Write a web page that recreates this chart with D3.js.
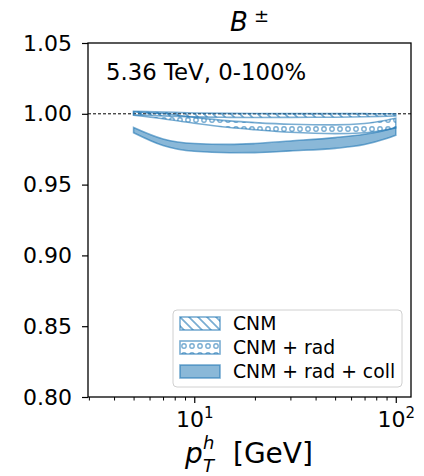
<!DOCTYPE html>
<html>
<head>
<meta charset="utf-8">
<script src="https://cdn.jsdelivr.net/npm/d3@7"></script>
<style>
  body { margin: 0; background: #fff; }
  text { font-family: "DejaVu Sans", sans-serif; fill: #000; }
</style>
</head>
<body>
<svg id="drawing_region"></svg>
<script>
// transverse momentum grid (GeV)
const pT = [5, 7, 10, 15, 20, 30, 50, 70, 90, 100];

// CNM only
const cnmHi = [1.0018, 1.0012, 1.0006, 1.0003, 1.0002, 1.0001, 1.0001, 1.0001, 1.0000, 1.0000];
const cnmLo = [0.9993, 0.9985, 0.9978, 0.9975, 0.9974, 0.9975, 0.9976, 0.9979, 0.9983, 0.9985];

// CNM + rad
const radHi = [1.0015, 1.0002, 0.9975, 0.9950, 0.9938, 0.9926, 0.9922, 0.9932, 0.9955, 0.9968];
const radLo = [0.9990, 0.9965, 0.9933, 0.9903, 0.9888, 0.9870, 0.9860, 0.9866, 0.9888, 0.9900];

// CNM + rad + coll
const collHi = [0.9903, 0.9822, 0.9790, 0.9784, 0.9790, 0.9808, 0.9832, 0.9855, 0.9885, 0.9905];
const collLo = [0.9866, 0.9776, 0.9735, 0.9725, 0.9726, 0.9738, 0.9756, 0.9783, 0.9825, 0.9848];

const yTicks = [0.80, 0.85, 0.90, 0.95, 1.00, 1.05];
const xMajor = [10, 100];
const xMinor = [3, 4, 5, 6, 7, 8, 9, 20, 30, 40, 50, 60, 70, 80, 90];
const legendLabels = ['CNM', 'CNM + rad', 'CNM + rad + coll'];

const config = {
    width: 424,
    height: 476,
    margin: {top: 43, right: 13, bottom: 79, left: 88}
};

const svg = d3.select('#drawing_region')
    .attr('width', config.width)
    .attr('height', config.height);

const inner_width = config.width - config.margin.left - config.margin.right;
const inner_height = config.height - config.margin.top - config.margin.bottom;

const chart = svg.append('g')
    .attr('transform', `translate(${config.margin.left}, ${config.margin.top})`);

const xscale = d3.scaleLog().domain([2.97, 119]).range([0, inner_width]);
const yscale = d3.scaleLinear().domain([0.80, 1.05]).range([inner_height, 0]);

const blue = 'rgba(31,119,180,0.6)';

// hatch patterns
const defs = svg.append('defs');
const diag = defs.append('pattern')
    .attr('id', 'hatch-diag')
    .attr('patternUnits', 'userSpaceOnUse')
    .attr('width', 9).attr('height', 9);
diag.append('path')
    .attr('d', 'M-2,-2 L11,11 M-2,7 L2,11 M7,-2 L11,2')
    .attr('stroke', blue).attr('stroke-width', 1.7);

const dots = defs.append('pattern')
    .attr('id', 'hatch-dots')
    .attr('patternUnits', 'userSpaceOnUse')
    .attr('width', 8).attr('height', 9);
dots.append('circle')
    .attr('cx', 4).attr('cy', 5).attr('r', 2.2)
    .attr('fill', 'none')
    .attr('stroke', blue).attr('stroke-width', 1.4);

const clip = defs.append('clipPath').attr('id', 'plot-clip');
clip.append('rect').attr('width', inner_width).attr('height', inner_height);

// bands
const makeArea = (lo, hi) => d3.area()
    .x((d, i) => xscale(pT[i]))
    .y0((d, i) => yscale(lo[i]))
    .y1((d, i) => yscale(hi[i]))
    .curve(d3.curveMonotoneX);

const bands = [
    {lo: cnmLo, hi: cnmHi, fill: 'url(#hatch-diag)'},
    {lo: radLo, hi: radHi, fill: 'url(#hatch-dots)'},
    {lo: collLo, hi: collHi, fill: 'rgba(31,119,180,0.52)'}
];

const plot = chart.append('g').attr('clip-path', 'url(#plot-clip)');

// reference line at 1
plot.append('line')
    .attr('x1', 0).attr('x2', inner_width)
    .attr('y1', yscale(1)).attr('y2', yscale(1))
    .attr('stroke', '#000')
    .attr('stroke-width', 1)
    .attr('stroke-dasharray', '3,2');

bands.forEach(b => {
    plot.append('path')
        .datum(pT)
        .attr('d', makeArea(b.lo, b.hi))
        .attr('fill', b.fill)
        .attr('stroke', blue)
        .attr('stroke-width', 1.6);
});

// axes
const yaxis = d3.axisLeft(yscale)
    .tickValues(yTicks)
    .tickFormat(d3.format('.2f'))
    .tickSize(6)
    .tickPadding(10)
    .tickSizeOuter(0);

const yaxis_group = chart.append('g').call(yaxis);
yaxis_group.select('.domain').remove();
yaxis_group.selectAll('text').style('font-size', '22px').style('font-family', '"DejaVu Sans"');
yaxis_group.selectAll('line').attr('stroke-width', 1.2);

const xaxis_minor = d3.axisBottom(xscale)
    .tickValues(xMinor)
    .tickFormat('')
    .tickSize(3.5)
    .tickSizeOuter(0);
const xminor_group = chart.append('g')
    .attr('transform', `translate(0, ${inner_height})`)
    .call(xaxis_minor);
xminor_group.select('.domain').remove();
xminor_group.selectAll('line').attr('stroke-width', 1);

const xaxis = d3.axisBottom(xscale)
    .tickValues(xMajor)
    .tickFormat('')
    .tickSize(6)
    .tickSizeOuter(0);
const xaxis_group = chart.append('g')
    .attr('transform', `translate(0, ${inner_height})`)
    .call(xaxis);
xaxis_group.select('.domain').remove();
xaxis_group.selectAll('line').attr('stroke-width', 1.2);

// 10^n labels
xaxis_group.selectAll('.tick').each(function(d) {
    const t = d3.select(this).append('text')
        .attr('y', 30)
        .attr('text-anchor', 'middle')
        .attr('fill', '#000')
        .style('font-size', '22px');
    t.append('tspan').text('10');
    t.append('tspan')
        .attr('dy', -9)
        .style('font-size', '15px')
        .text(Math.round(Math.log10(d)));
});

// frame
chart.append('rect')
    .attr('width', inner_width)
    .attr('height', inner_height)
    .attr('fill', 'none')
    .attr('stroke', '#000')
    .attr('stroke-width', 1.3);

// title
const title = svg.append('text')
    .attr('x', config.margin.left + inner_width / 2)
    .attr('y', 31)
    .attr('text-anchor', 'middle')
    .style('font-size', '26px');
title.append('tspan').style('font-style', 'italic').text('B');
title.append('tspan').attr('dx', 6).attr('dy', -9).style('font-size', '18px').text('±');

// annotation
chart.append('text')
    .attr('x', 18)
    .attr('y', 37)
    .style('font-size', '22.8px')
    .text('5.36 TeV, 0-100%');

// x label: p, stacked h / T, then unit
const xl_y = 463;
const xl_x = 185;
svg.append('text')
    .attr('x', xl_x).attr('y', xl_y)
    .style('font-size', '28px').style('font-style', 'italic')
    .text('p');
svg.append('text')
    .attr('x', xl_x + 18).attr('y', xl_y - 14)
    .style('font-size', '18px').style('font-style', 'italic')
    .text('h');
svg.append('text')
    .attr('x', xl_x + 18).attr('y', xl_y + 9)
    .style('font-size', '18px').style('font-style', 'italic')
    .text('T');
svg.append('text')
    .attr('x', 233).attr('y', xl_y)
    .style('font-size', '28px')
    .text('[GeV]');

// legend
const legend = chart.append('g')
    .attr('transform', `translate(${inner_width - 238}, ${inner_height - 87})`);
legend.append('rect')
    .attr('width', 229)
    .attr('height', 77)
    .attr('rx', 4)
    .attr('fill', 'rgba(255,255,255,0.8)')
    .attr('stroke', '#d0d0d0')
    .attr('stroke-width', 1);

legendLabels.forEach((label, i) => {
    const row = legend.append('g')
        .attr('transform', `translate(7, ${7 + i * 24})`);
    row.append('rect')
        .attr('width', 40)
        .attr('height', 13)
        .attr('fill', bands[i].fill)
        .attr('stroke', blue)
        .attr('stroke-width', 1.6);
    row.append('text')
        .attr('x', 53)
        .attr('y', 12.5)
        .style('font-size', '18.8px')
        .text(label);
});
</script>
</body>
</html>
